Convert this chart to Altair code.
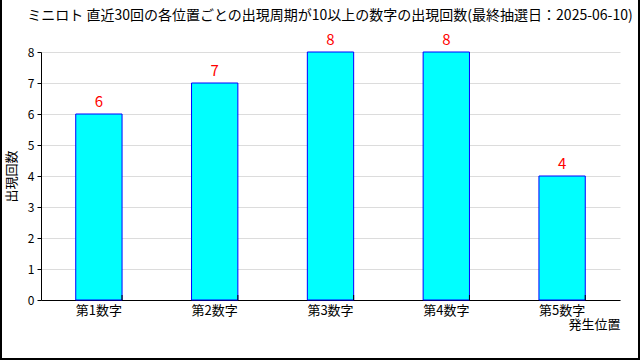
import altair as alt
import pandas as pd

categories = ["第1数字", "第2数字", "第3数字", "第4数字", "第5数字"]
counts = [6, 7, 8, 8, 4]
title_text = "ミニロト 直近30回の各位置ごとの出現周期が10以上の数字の出現回数(最終抽選日：2025-06-10)"

df = pd.DataFrame({"pos": categories, "count": counts})
FONT = "Noto Sans CJK JP"

xenc = alt.X("pos:N", sort=categories,
             scale=alt.Scale(paddingInner=0.6, paddingOuter=0.3),
             axis=alt.Axis(title="発生位置", labelAngle=0, ticks=False,
                           labelPadding=4, labelFontSize=13, labelColor="#000",
                           domainColor="#000", titleFontSize=13, titleFontWeight="normal",
                           titleAnchor="end", titleAlign="right", titleX=579, titleY=18,
                           titleBaseline="top", grid=False))
yenc = alt.Y("count:Q", scale=alt.Scale(domain=[0, 8]),
             axis=alt.Axis(title="出現回数", values=[0, 1, 2, 3, 4, 5, 6, 7, 8],
                           format="d", tickSize=4, tickColor="#000", domainColor="#000",
                           labelFontSize=12, labelColor="#000", labelPadding=3,
                           labelOverlap=False,
                           gridColor="#dcdcdc", titleFontSize=13, titleFontWeight="normal",
                           titlePadding=9))

base = alt.Chart(df).encode(x=xenc, y=yenc)

bars = base.mark_bar(fill="#00ffff", stroke="#0000ff", strokeWidth=1)

text = base.mark_text(color="#ff0000", fontSize=15, dy=-12, font=FONT).encode(text="count:Q")

ticks = base.mark_rule(color="#000").encode(
    x=alt.X("pos:N", sort=categories, bandPosition=1),
    y=alt.value(243), y2=alt.value(248))

title = alt.Chart(pd.DataFrame({"t": [title_text]})).mark_text(
    fontSize=14, color="#000", font=FONT, align="center", baseline="middle"
).encode(x=alt.value(289), y=alt.value(-36), text="t:N")

frame_l = base.mark_rule(color="#000", strokeWidth=2).encode(
    x=alt.value(-40), y=alt.value(-52), y2=alt.value(308))
frame_r = base.mark_rule(color="#000", strokeWidth=2).encode(
    x=alt.value(598), y=alt.value(-52), y2=alt.value(308))
frame_b = base.mark_rule(color="#000", strokeWidth=2).encode(
    x=alt.value(-41), x2=alt.value(599), y=alt.value(307))

chart = alt.layer(bars, text, ticks, title, frame_l, frame_r, frame_b).properties(
    width=579, height=248,
    padding={"left": 41, "top": 52, "right": 20, "bottom": 60},
    autosize=alt.AutoSizeParams(type="none"),
    background="white",
).configure(font=FONT).configure_view(stroke=None).configure_axis(labelFont=FONT, titleFont=FONT)

chart.save("out.html", embed_options={"renderer": "svg", "actions": False})
